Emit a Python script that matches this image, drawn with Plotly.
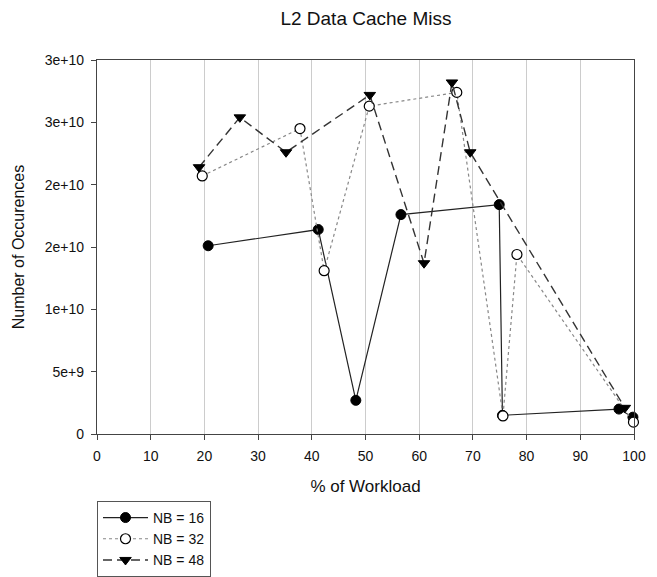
import plotly.graph_objects as go

x16 = [20.7, 41.2, 48.2, 56.6, 74.9, 75.5, 97.2, 99.8]
y16 = [15.1e9, 16.4e9, 2.7e9, 17.6e9, 18.4e9, 1.5e9, 2.0e9, 1.35e9]

x32 = [19.6, 37.8, 42.3, 50.7, 67.0, 75.6, 78.2, 99.9]
y32 = [20.7e9, 24.5e9, 13.1e9, 26.3e9, 27.4e9, 1.45e9, 14.4e9, 0.95e9]

x48 = [19.0, 26.6, 35.2, 50.8, 60.9, 66.1, 69.5, 98.3]
y48 = [21.4e9, 25.4e9, 22.6e9, 27.2e9, 13.7e9, 28.2e9, 22.6e9, 2.1e9]

ytickvals = [0, 5e9, 1e10, 1.5e10, 2e10, 2.5e10, 3e10]
yticktext = ["0", "5e+9", "1e+10", "2e+10", "2e+10", "3e+10", "3e+10"]
xtickvals = [0, 10, 20, 30, 40, 50, 60, 70, 80, 90, 100]

fig = go.Figure()
fig.add_trace(go.Scatter(
    x=x16, y=y16, name="NB = 16", mode="lines+markers",
    line=dict(color="#222222", width=1.2, dash="solid"),
    marker=dict(symbol="circle", size=10, color="black", line=dict(color="black", width=1)),
    cliponaxis=False))
fig.add_trace(go.Scatter(
    x=x32, y=y32, name="NB = 32", mode="lines+markers",
    line=dict(color="#888888", width=1.2, dash="dot"),
    marker=dict(symbol="circle", size=10, color="white", line=dict(color="black", width=1.2)),
    cliponaxis=False))
fig.add_trace(go.Scatter(
    x=x48, y=y48, name="NB = 48", mode="lines+markers",
    line=dict(color="#333333", width=1.4, dash="9px,5px"),
    marker=dict(symbol="triangle-down", size=10, color="black", line=dict(color="black", width=1)),
    cliponaxis=False))

font_family = "Liberation Sans, Arial, sans-serif"
fig.update_layout(
    width=657, height=577,
    margin=dict(l=97, r=23, t=60, b=143, autoexpand=False),
    paper_bgcolor="white", plot_bgcolor="white",
    font=dict(family=font_family, size=14, color="#111111"),
    title=dict(text="L2 Data Cache Miss", x=0.557, xanchor="center", y=0.968, yanchor="middle",
               font=dict(size=19, family=font_family, color="#111111")),
    showlegend=True,
    legend=dict(x=0, xanchor="left", y=-0.179, yanchor="top",
                bordercolor="#555555", borderwidth=1, bgcolor="white",
                font=dict(size=14, family=font_family), itemwidth=45,
                tracegroupgap=0),
    xaxis=dict(range=[0, 100], tickvals=xtickvals, showgrid=True, gridcolor="#cccccc", gridwidth=1,
               showline=True, linecolor="#444444", linewidth=1.2, mirror=True,
               ticks="outside", ticklen=5, tickcolor="#444444", zeroline=False,
               tickfont=dict(size=14), ticklabelstandoff=4, automargin=False,
               title=dict(text="% of Workload", font=dict(size=17), standoff=17)),
    yaxis=dict(range=[0, 3e10], tickvals=ytickvals, ticktext=yticktext, showgrid=False,
               showline=True, linecolor="#444444", linewidth=1.2, mirror=True,
               ticks="outside", ticklen=5, tickcolor="#444444", zeroline=False,
               tickfont=dict(size=14), ticklabelstandoff=4, automargin=False,
               title=dict(text="Number of Occurences", font=dict(size=16), standoff=16)),
)

fig.write_html("out.html")
